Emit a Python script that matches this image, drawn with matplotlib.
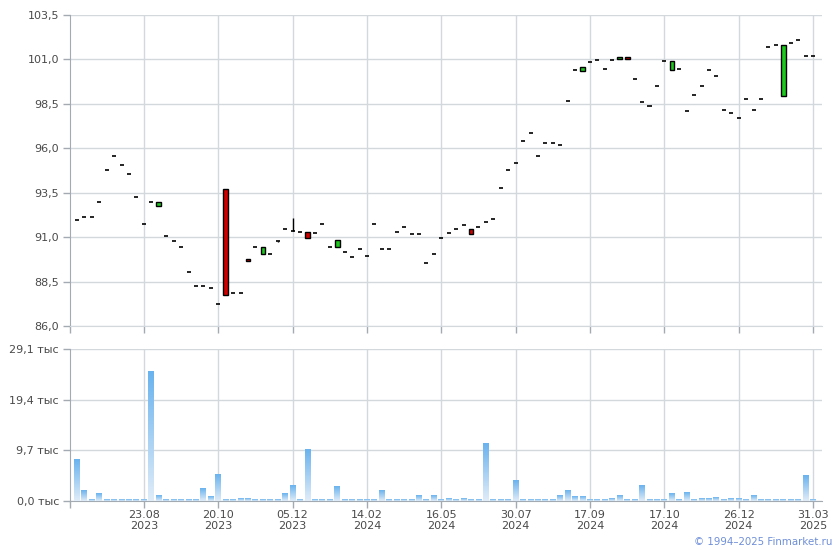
import numpy as np
import matplotlib
matplotlib.use("Agg")
import matplotlib.pyplot as plt
from matplotlib.colors import LinearSegmentedColormap

# ---------------- data ----------------
opens = [91.95, 92.12, 92.12, 92.96, 94.76, 95.57, 95.04, 94.54, 93.24, 91.72,
         92.96, 92.73, 91.05, 90.77, 90.43, 89.02, 88.23, 88.23, 88.12, 87.22,
         93.69, 87.84, 87.84, 89.75, 90.43, 90.03, 90.05, 90.77, 91.44, 91.33,
         91.27, 91.27, 91.22, 91.72, 90.43, 90.43, 90.15, 89.87, 90.32, 89.92,
         91.72, 90.32, 90.32, 91.27, 91.55, 91.16, 91.16, 89.53, 90.03, 90.94,
         91.22, 91.44, 91.67, 91.44, 91.55, 91.84, 92.00, 93.75, 94.76, 95.16,
         96.39, 96.84, 95.55, 96.28, 96.28, 96.17, 98.64, 100.39, 100.36, 100.84,
         100.95, 100.45, 100.95, 101.05, 101.15, 99.88, 98.59, 98.36, 99.49, 100.90,
         100.39, 100.45, 98.08, 98.98, 99.49, 100.39, 100.05, 98.14, 97.97, 97.69,
         98.76, 98.14, 98.76, 101.68, 101.80, 98.93, 101.91, 102.08, 101.18, 101.18]
closes = [91.95, 92.12, 92.12, 92.96, 94.76, 95.57, 95.04, 94.54, 93.24, 91.72,
          92.96, 92.96, 91.05, 90.77, 90.43, 89.02, 88.23, 88.23, 88.12, 87.22,
          87.73, 87.84, 87.84, 89.64, 90.43, 90.43, 90.05, 90.77, 91.44, 91.33,
          91.27, 90.94, 91.22, 91.72, 90.43, 90.82, 90.15, 89.87, 90.32, 89.92,
          91.72, 90.32, 90.32, 91.27, 91.55, 91.16, 91.16, 89.53, 90.03, 90.94,
          91.22, 91.44, 91.67, 91.16, 91.55, 91.84, 92.00, 93.75, 94.76, 95.16,
          96.39, 96.84, 95.55, 96.28, 96.28, 96.17, 98.64, 100.39, 100.56, 100.84,
          100.95, 100.45, 100.95, 101.15, 101.05, 99.88, 98.59, 98.36, 99.49, 100.90,
          100.90, 100.45, 98.08, 98.98, 99.49, 100.39, 100.05, 98.14, 97.97, 97.69,
          98.76, 98.14, 98.76, 101.68, 101.80, 101.80, 101.91, 102.08, 101.18, 101.18]
highs = [max(o, c) for o, c in zip(opens, closes)]
lows = [min(o, c) for o, c in zip(opens, closes)]
highs[29] = 92.06
lows[27] = 90.70

volumes = [7.99, 2.09, 0.38, 1.52, 0.2, 0.2, 0.2, 0.2, 0.2, 0.2,
           24.9, 1.14, 0.2, 0.2, 0.2, 0.2, 0.2, 2.47, 0.95, 5.14,
           0.2, 0.38, 0.57, 0.57, 0.2, 0.38, 0.2, 0.38, 1.52, 3.04,
           0.2, 9.89, 0.2, 0.38, 0.2, 2.85, 0.2, 0.2, 0.2, 0.38,
           0.2, 2.09, 0.38, 0.2, 0.2, 0.2, 1.14, 0.2, 1.14, 0.2,
           0.57, 0.2, 0.57, 0.2, 0.2, 11.03, 0.2, 0.2, 0.2, 3.99,
           0.2, 0.2, 0.2, 0.2, 0.38, 1.14, 2.09, 0.95, 0.95, 0.2,
           0.38, 0.38, 0.57, 1.14, 0.2, 0.2, 3.04, 0.2, 0.2, 0.2,
           1.52, 0.38, 1.71, 0.38, 0.57, 0.57, 0.76, 0.2, 0.57, 0.57,
           0.2, 1.14, 0.2, 0.2, 0.2, 0.2, 0.2, 0.2, 4.95, 0.2]

tick_idx = [9, 19, 29, 39, 49, 59, 69, 79, 89, 99]
tick_labels = ["23.08\n2023", "20.10\n2023", "05.12\n2023", "14.02\n2024", "16.05\n2024",
               "30.07\n2024", "17.09\n2024", "17.10\n2024", "26.12\n2024", "31.03\n2025"]
price_ticks = [86.0, 88.5, 91.0, 93.5, 96.0, 98.5, 101.0, 103.5]
price_labels = ["86,0", "88,5", "91,0", "93,5", "96,0", "98,5", "101,0", "103,5"]
vol_ticks = [0.0, 9.7, 19.4, 29.1]
vol_labels = ["0,0 тыс", "9,7 тыс", "19,4 тыс", "29,1 тыс"]

# ---------------- style ----------------
GRID = "#d3d8dc"
SPINE = "#a3aab2"
TXT = "#4a4a4a"
UP = "#1ec81e"
DOWN = "#d00000"
XL = (-0.94, 100.2)

fig = plt.figure(figsize=(8.4, 5.5), dpi=100)
ax1 = fig.add_axes([70 / 840, 1 - 326 / 550, 752 / 840, 311 / 550])
ax2 = fig.add_axes([70 / 840, 1 - 500.5 / 550, 752 / 840, 151.5 / 550])

x = np.arange(len(opens))

# candles
bw = 0.62
for i in x:
    o, c, h, l = opens[i], closes[i], highs[i], lows[i]
    if h > max(o, c) or l < min(o, c):
        ax1.vlines(i, l, h, color="black", lw=1.0, zorder=3)
    if abs(c - o) < 1e-9:
        ax1.hlines(o, i - 0.27, i + 0.27, color="black", lw=1.2, zorder=4)
    else:
        col = UP if c > o else DOWN
        ax1.bar(i, abs(c - o), bottom=min(o, c), width=bw, color=col,
                edgecolor="black", linewidth=1.0, zorder=4)

ax1.set_xlim(*XL)
ax1.set_ylim(86.0, 103.5)
ax1.set_yticks(price_ticks)
ax1.set_yticklabels(price_labels)
ax1.set_xticks([XL[0]] + tick_idx)
ax1.set_xticklabels([])

# volume bars with gradient
cmap = LinearSegmentedColormap.from_list("vg", ["#e0ecf8", "#6ab3ee"])
grad = np.linspace(0, 1, 64).reshape(-1, 1)
vw = 0.8
for i in x:
    v = volumes[i]
    ax2.imshow(grad, cmap=cmap, origin="lower", aspect="auto",
               extent=[i - vw / 2, i + vw / 2, 0, v], zorder=3,
               interpolation="bilinear")
ax2.set_xlim(*XL)
ax2.set_ylim(0, 29.1)
ax2.set_yticks(vol_ticks)
ax2.set_yticklabels(vol_labels)
ax2.set_xticks([XL[0]] + tick_idx)
ax2.set_xticklabels([""] + tick_labels, linespacing=1.1)

for ax in (ax1, ax2):
    ax.grid(True, color=GRID, lw=1.0, zorder=0)
    ax.set_axisbelow(True)
    for s in ("top", "right"):
        ax.spines[s].set_visible(False)
    ax.spines["left"].set_color(SPINE)
    ax.spines["bottom"].set_color(SPINE if ax is ax2 else GRID)
    ax.tick_params(axis="both", colors=SPINE, labelcolor=TXT, labelsize=8,
                   length=5, width=1, direction="out")
    ax.tick_params(axis="y", pad=3)
    ax.tick_params(axis="x", pad=2)
    ax.set_facecolor("white")

# remove grid line at the extra left tick
for ax in (ax1, ax2):
    gl = ax.get_xgridlines()
    if gl:
        gl[0].set_visible(False)

fig.text(832 / 840, 1 - 542 / 550, "© 1994–2025 Finmarket.ru", ha="right", va="center",
         fontsize=7.4, color="#6f8fd8")

fig.savefig("out.png", dpi=100, facecolor="white")
